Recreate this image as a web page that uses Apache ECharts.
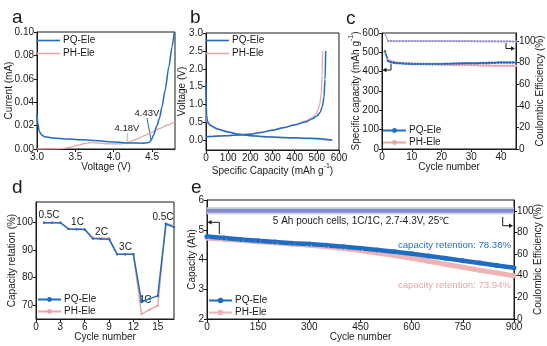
<!DOCTYPE html>
<html><head><meta charset="utf-8">
<script src="https://cdn.jsdelivr.net/npm/echarts@6/dist/echarts.min.js"></script>
<style>html,body{margin:0;padding:0;background:#fff}#c{width:547px;height:346px}</style>
</head><body><div id="c"></div>
<script>
// ---------- Panel a: LSV ----------
const aVoltPQ = [3.00, 3.01, 3.03, 3.06, 3.10, 3.20, 3.40, 3.60, 3.80, 4.00, 4.20, 4.40, 4.46, 4.49, 4.52, 4.565, 4.60, 4.63, 4.67, 4.72, 4.76, 4.79];
const aCurPQ  = [0.030, 0.022, 0.015, 0.012, 0.0105, 0.0095, 0.0085, 0.0078, 0.0070, 0.0060, 0.0052, 0.0050, 0.0055, 0.0075, 0.012, 0.020, 0.027, 0.036, 0.050, 0.070, 0.087, 0.100];
const aVoltPH = [3.00, 3.25, 3.35, 3.45, 3.55, 3.65, 3.72, 3.80, 3.90, 4.00, 4.10, 4.18, 4.30, 4.40, 4.50, 4.60, 4.70, 4.80];
const aCurPH  = [0.0, 0.0002, 0.0006, 0.0018, 0.0036, 0.0050, 0.0055, 0.0050, 0.0045, 0.0043, 0.0045, 0.0055, 0.0085, 0.0115, 0.0145, 0.0175, 0.0205, 0.0235];
const aXTicks = [3.0, 3.5, 4.0, 4.5];
const aYTicks = [0, 0.02, 0.04, 0.06, 0.08, 0.10];

// ---------- Panel b: voltage profiles ----------
const bDisCapPQ = [0, 1, 3, 6, 12, 25, 50, 100, 150, 200, 250, 300, 350, 400, 450, 500, 530, 550, 570];
const bDisVPQ   = [1.6, 1.0, 0.7, 0.55, 0.47, 0.40, 0.32, 0.23, 0.17, 0.13, 0.11, 0.09, 0.08, 0.07, 0.06, 0.05, 0.04, 0.02, 0.0];
const bChgCapPQ = [0, 20, 60, 100, 150, 200, 250, 300, 350, 400, 450, 480, 500, 515, 525, 532, 537, 540];
const bChgVPQ   = [0.10, 0.11, 0.12, 0.13, 0.15, 0.17, 0.22, 0.28, 0.35, 0.43, 0.52, 0.60, 0.68, 0.78, 0.95, 1.2, 1.7, 2.5];
const bDisCapPH = [0, 2, 5, 10, 20, 40, 80, 130, 200, 260, 320, 400, 460, 510, 540, 565];
const bDisVPH   = [0.9, 0.6, 0.5, 0.45, 0.40, 0.35, 0.27, 0.19, 0.13, 0.10, 0.08, 0.065, 0.05, 0.03, 0.01, 0.0];
const bChgCapPH = [0, 20, 60, 100, 150, 200, 250, 300, 350, 400, 450, 475, 495, 505, 513, 520, 524, 526];
const bChgVPH   = [0.10, 0.11, 0.12, 0.13, 0.15, 0.18, 0.23, 0.29, 0.36, 0.44, 0.54, 0.62, 0.72, 0.85, 1.0, 1.3, 1.8, 2.5];
const bXTicks = [0, 100, 200, 300, 400, 500, 600];
const bYTicks = [0, 0.5, 1.0, 1.5, 2.0, 2.5, 3.0];

// ---------- Panel c: half-cell cycling ----------
const cCycles = [1,2,3,4,5,6,7,8,9,10,11,12,13,14,15,16,17,18,19,20,21,22,23,24,25,26,27,28,29,30,31,32,33,34,35,36,37,38,39,40,41,42,43,44,45];
const cCapPQ = [505,455,449,446,444,443,442,441,441,440,440,440,440,440,440,440,440,440,440,440,441,441,441,442,442,442,443,443,443,444,444,444,445,445,445,446,446,446,447,447,447,447,448,448,448];
const cCapPH = [500,462,455,451,448,446,445,444,443,442,441,441,440,440,439,439,438,438,437,437,436,436,436,435,435,435,434,434,434,433,433,433,432,432,432,432,431,431,431,431,430,430,430,430,430];
const cCEPQ  = [107,100,100,100,100,100,100,100,100,100,100,100,100,100,100,100,100,100,100,100,100,100,100,100,99.9,99.9,99.9,99.9,99.9,99.9,99.9,99.8,99.8,99.8,99.8,99.8,99.8,99.8,99.7,99.7,99.7,99.7,99.7,99.6,99.6];
const cCEPH  = [107,100,100,100,100,100,100,100,100,100,100,100,100,100,100,100,100,100,100,100,100,100,100,100,99.9,99.9,99.9,99.9,99.9,99.9,99.9,99.8,99.8,99.8,99.8,99.8,99.8,99.8,99.7,99.7,99.7,99.7,99.7,99.6,99.6];
const cXTicks = [0, 10, 20, 30, 40];
const cYTicks = [0, 100, 200, 300, 400, 500, 600];
const cCETicks = [0, 20, 40, 60, 80, 100];

// ---------- Panel d: rate capability ----------
const dCycles = [1,2,3,4,5,6,7,8,9,10,11,12,13,14,15,16,17];
const dPQ = [100, 100, 100, 97.7, 97.6, 97.5, 94.2, 94.1, 94.0, 88.5, 88.5, 88.5, 71.2, 72.4, 73.4, 99.5, 98.4];
const dPH = [100, 100, 100, 97.8, 97.7, 97.6, 94.5, 94.4, 94.3, 88.6, 88.5, 88.5, 66.8, 68.4, 69.8, 99.8, 98.8];
const dRates = ['0.5C', '1C', '2C', '3C', '4C', '0.5C'];
const dXTicks = [0, 3, 6, 9, 12, 15];
const dYTicks = [70, 80, 90, 100];

// ---------- Panel e: pouch cell cycling ----------
const eCycles = [0, 50, 100, 150, 200, 250, 300, 350, 400, 450, 500, 550, 600, 650, 700, 750, 800, 850, 900];
const eCapPQ = [4.77, 4.72, 4.67, 4.63, 4.59, 4.55, 4.52, 4.48, 4.43, 4.38, 4.32, 4.26, 4.19, 4.12, 4.04, 3.96, 3.88, 3.80, 3.72];
const eCapPH = [4.72, 4.68, 4.64, 4.60, 4.56, 4.52, 4.48, 4.43, 4.37, 4.30, 4.22, 4.13, 4.04, 3.94, 3.84, 3.74, 3.64, 3.55, 3.45];
const eCEPQ  = [100, 100, 100, 100, 100, 100, 100, 100, 100, 100, 100, 100, 100, 100, 100, 100, 100, 100, 100];
const eCEPH  = [100, 100, 100, 100, 100, 100, 100, 100, 100, 100, 100, 100, 100, 100, 100, 100, 100, 100, 100];
const eXTicks = [0, 150, 300, 450, 600, 750, 900];
const eYTicks = [2, 3, 4, 5, 6];
const eCETicks = [0, 20, 40, 60, 80, 100];

const BLUE = '#1f6cc4', PINK = '#eaa6a6';
const FONT = '"Liberation Sans", Arial, sans-serif';
const INK = '#1a1a1a';
const zip = (xs, ys) => xs.map((x, i) => [x, ys[i]]);

function axis(o) {
  return {
    type: 'value', gridIndex: o.grid, min: o.min, max: o.max, position: o.position,
    axisLine: {show: true, onZero: false, lineStyle: {color: INK, width: 1}},
    axisTick: {show: true, length: 3, inside: false, customValues: o.ticks, lineStyle: {color: INK}},
    axisLabel: {customValues: o.ticks, formatter: o.fmt, fontSize: 10, color: INK, margin: 3, fontFamily: FONT},
    splitLine: {show: false},
    name: o.name, nameLocation: 'middle', nameGap: o.gap, nameMoveOverlap: false,
    nameTextStyle: {fontSize: 10, color: INK, fontFamily: FONT,
      rich: {n: {fontSize: 10, color: INK, fontFamily: FONT, lineHeight: 13, verticalAlign: 'bottom'},
             sup: {fontSize: 7, color: INK, fontFamily: FONT, lineHeight: 8, verticalAlign: 'top'}}}
  };
}
const f = n => v => v.toFixed(n);

function grid(l, t, r, b) {
  return {left: l, top: t, width: r - l, height: b - t, show: true, borderColor: INK, borderWidth: 1,
          backgroundColor: 'transparent', containLabel: false, outerBoundsMode: 'none'};
}

function lineSer(name, xi, yi, data, color, w, sym, symSize, extra) {
  return Object.assign({
    type: 'line', name: name, xAxisIndex: xi, yAxisIndex: yi, data: data,
    symbol: sym || 'none', symbolSize: symSize || 0, showSymbol: !!sym,
    lineStyle: {color: color, width: w}, itemStyle: {color: color},
    smooth: false, animation: false, silent: true, clip: true
  }, extra || {});
}

function legend(l, t, names, iw, ih, icon) {
  const o = {left: l, top: t, orient: 'vertical', data: names, itemWidth: iw, itemHeight: ih, itemGap: icon ? 2 : 1,
    padding: 0, selectedMode: false, textStyle: {fontSize: 10, color: INK, fontFamily: FONT, padding: [0, 0, 0, -2], lineHeight: 11}};
  if (icon) o.icon = icon;
  return o;
}

function txt(x, y, s, size, color, align) {
  return {type: 'text', x: x, y: y, silent: true,
    style: {text: s, font: size + 'px ' + FONT, fill: color || INK, align: align || 'left', verticalAlign: 'middle',
            textAlign: align || 'left', textVerticalAlign: 'middle'}};
}
function seg(points, color, w) {
  return {type: 'polyline', silent: true, shape: {points: points}, style: {stroke: color || INK, lineWidth: w || 1, fill: null}};
}
function head(points, color) {
  return {type: 'polygon', silent: true, shape: {points: points}, style: {fill: color || INK}};
}

const smoothOpt = {smooth: 0.25, smoothMonotone: 'x'};

const option = {
  animation: false,
  backgroundColor: '#fff',
  grid: [
    grid(37, 32, 175, 149),
    grid(206, 33, 339, 150),
    grid(382, 33, 516, 149),
    grid(36, 202, 174, 319),
    grid(207, 200, 514, 319)
  ],
  xAxis: [
    axis({grid: 0, min: 3.0, max: 4.8, ticks: aXTicks, fmt: f(1), name: 'Voltage (V)', gap: 13}),
    axis({grid: 1, min: 0, max: 600, ticks: bXTicks, fmt: f(0), name: '{n|Specific Capacity (mAh g}{sup|-1}{n|)}', gap: 13}),
    axis({grid: 2, min: 0, max: 45, ticks: cXTicks, fmt: f(0), name: 'Cycle number', gap: 13}),
    axis({grid: 3, min: 0, max: 17, ticks: dXTicks, fmt: f(0), name: 'Cycle number', gap: 13}),
    axis({grid: 4, min: 0, max: 900, ticks: eXTicks, fmt: f(0), name: 'Cycle number', gap: 13})
  ],
  yAxis: [
    axis({grid: 0, min: 0, max: 0.10, ticks: aYTicks, fmt: f(2), name: 'Current (mA)', gap: 23}),
    axis({grid: 1, min: -0.27, max: 3.0, ticks: bYTicks, fmt: f(1), name: 'Voltage (V)', gap: 19}),
    axis({grid: 2, min: 0, max: 600, ticks: cYTicks, fmt: f(0), name: '{n|Specific capacity (mAh g}{sup|-1}{n|)}', gap: 21}),
    axis({grid: 2, min: 0, max: 107.5, ticks: cCETicks, fmt: f(0), name: 'Coulombic Efficiency (%)', gap: 19, position: 'right'}),
    axis({grid: 3, min: 65, max: 107.5, ticks: dYTicks, fmt: f(0), name: 'Capacity retation (%)', gap: 19}),
    axis({grid: 4, min: 2, max: 6, ticks: eYTicks, fmt: f(0), name: 'Capacity (Ah)', gap: 10}),
    axis({grid: 4, min: 0, max: 110, ticks: eCETicks, fmt: f(0), name: 'Coulombic Efficiency (%)', gap: 19, position: 'right'})
  ],
  legend: [
    legend(37, 35, ['PQ-Ele', 'PH-Ele'], 23, 1.6, 'rect'),
    legend(206, 35, ['PQ-Ele ', 'PH-Ele '], 23, 1.6, 'rect'),
    legend(382, 125, ['PQ-Ele  ', 'PH-Ele  '], 23, 6),
    legend(37, 294, ['PQ-Ele   ', 'PH-Ele   '], 23, 6),
    legend(208, 295, ['PQ-Ele    ', 'PH-Ele    '], 23, 7)
  ],
  series: [
    // a
    lineSer('PH-Ele', 0, 0, zip(aVoltPH, aCurPH), PINK, 1.3, null, 0, smoothOpt),
    lineSer('PQ-Ele', 0, 0, zip(aVoltPQ, aCurPQ), BLUE, 1.5, null, 0, smoothOpt),
    // b
    lineSer('PH-Ele ', 1, 1, zip(bDisCapPH, bDisVPH), PINK, 1.3, null, 0, smoothOpt),
    lineSer('PH-Ele ', 1, 1, zip(bChgCapPH, bChgVPH), PINK, 1.3, null, 0, smoothOpt),
    lineSer('PQ-Ele ', 1, 1, zip(bDisCapPQ, bDisVPQ), BLUE, 1.5, null, 0, smoothOpt),
    lineSer('PQ-Ele ', 1, 1, zip(bChgCapPQ, bChgVPQ), BLUE, 1.5, null, 0, smoothOpt),
    // c
    lineSer('PH-CE', 2, 3, zip(cCycles, cCEPH), '#e3b0c0', 0.8, 'circle', 2.2),
    lineSer('PQ-CE', 2, 3, zip(cCycles, cCEPQ), '#8c98d4', 0.8, 'circle', 2.2),
    lineSer('PH-Ele  ', 2, 2, zip(cCycles, cCapPH), PINK, 1.5, 'circle', 2.5),
    lineSer('PQ-Ele  ', 2, 2, zip(cCycles, cCapPQ), BLUE, 1.5, 'circle', 2.5),
    // d
    lineSer('PH-Ele   ', 3, 4, zip(dCycles, dPH), PINK, 1.5, 'circle', 2.5),
    lineSer('PQ-Ele   ', 3, 4, zip(dCycles, dPQ), BLUE, 1.5, 'circle', 2.5),
    // e
    lineSer('PH-CE2', 4, 6, zip(eCycles, eCEPH), '#c6c8e6', 7, null, 0),
    lineSer('PQ-CE2', 4, 6, zip(eCycles, eCEPQ), '#7d8ccb', 3.5, null, 0),
    lineSer('PH-Ele    ', 4, 5, zip(eCycles, eCapPH), '#eeb4b4', 5, 'circle', 5),
    lineSer('PQ-Ele    ', 4, 5, zip(eCycles, eCapPQ), BLUE, 4.5, 'circle', 5)
  ],
  graphic: [
    // panel letters
    txt(12, 18, 'a', 19), txt(190, 18, 'b', 19), txt(346, 19, 'c', 19),
    txt(12, 188, 'd', 19), txt(191, 188, 'e', 19),
    // panel a annotations
    txt(127, 128, '4.18V', 9.5, INK, 'center'),
    seg([[127.3, 133], [127.3, 141.5]], PINK, 1),
    txt(147, 113, '4.43V', 9.5, INK, 'center'),
    seg([[147, 118], [151, 140]], BLUE, 1),
    // panel c arrows
    seg([[391, 64], [391, 70], [385, 70]], INK, 1),
    head([[382.5, 70], [386.5, 67.8], [386.5, 72.2]]),
    seg([[506, 43], [506, 48.5], [512, 48.5]], INK, 1),
    head([[515, 48.5], [511, 46.3], [511, 50.7]]),
    // panel d rate labels
    txt(49, 215.5, dRates[0], 10, INK, 'center'),
    txt(77.5, 222.5, dRates[1], 10, INK, 'center'),
    txt(101.5, 232.5, dRates[2], 10, INK, 'center'),
    txt(125.5, 247.5, dRates[3], 10, INK, 'center'),
    txt(145, 300.5, dRates[4], 10, INK, 'center'),
    txt(163, 217.5, dRates[5], 10, INK, 'center'),
    // panel e texts
    txt(361, 221, '5 Ah pouch cells, 1C/1C, 2.7-4.3V, 25\u2103', 10, INK, 'center'),
    txt(511, 245, 'capacity retention: 78.36%', 9.6, '#2a6fc4', 'right'),
    txt(511, 285, 'capacity retention: 73.94%', 9.6, '#eaa6a6', 'right'),
    // panel e arrows
    seg([[219.3, 234], [219.3, 222.3], [211, 222.3]], INK, 1),
    head([[207.5, 222.3], [211.5, 220.1], [211.5, 224.5]]),
    seg([[502.7, 217], [502.7, 225.7], [509.5, 225.7]], INK, 1),
    head([[513, 225.7], [509, 223.5], [509, 227.9]])
  ]
};

const chart = echarts.init(document.getElementById('c'), null, {renderer: 'canvas'});
chart.setOption(option);
</script>
</body></html>
